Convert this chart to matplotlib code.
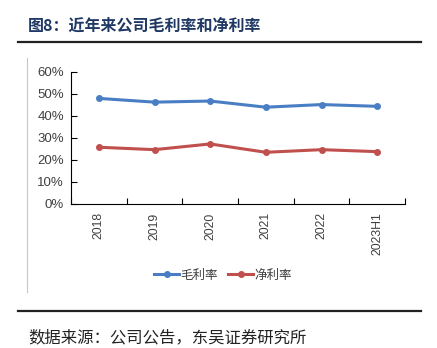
import matplotlib.pyplot as plt
from matplotlib.lines import Line2D

plt.rcParams['font.family'] = ['Noto Sans CJK SC', 'DejaVu Sans']

# datos
anios = ['2018', '2019', '2020', '2021', '2022', '2023H1']
margen_bruto = [48.0, 46.3, 46.8, 44.0, 45.2, 44.4]
margen_neto = [25.8, 24.7, 27.3, 23.5, 24.7, 23.8]
y_ticks = [0, 10, 20, 30, 40, 50, 60]

azul = '#4A7EC4'
rojo = '#C0504D'
gris = '#404040'

fig = plt.figure(figsize=(4.37, 3.48), dpi=100)
ax = fig.add_axes([71/437, 1-204/348, (405-71)/437, (204-72)/348])

x = [i + 0.5 for i in range(len(anios))]
ax.plot(x, margen_bruto, color=azul, lw=2.2, marker='o', ms=4, label='毛利率')
ax.plot(x, margen_neto, color=rojo, lw=2.2, marker='o', ms=4, label='净利率')

ax.set_xlim(0, len(anios))
ax.set_ylim(0, 60)
ax.set_yticks(y_ticks)
ax.set_yticklabels([str(v) + '%' for v in y_ticks], fontsize=9.5, color=gris, family='Liberation Sans')
ax.set_xticks(range(len(anios) + 1))
ax.set_xticklabels([])
ax.set_xticks(x, minor=True)
ax.set_xticklabels(anios, minor=True, rotation=90, fontsize=8.8, color=gris, family='Liberation Sans')
ax.tick_params(axis='x', which='minor', length=0, pad=6)
ax.tick_params(axis='x', which='major', direction='in', length=4, width=0.8)
ax.tick_params(axis='y', direction='in', length=4, width=0.8, pad=5)
for lado in ['top', 'right']:
    ax.spines[lado].set_visible(False)
for lado in ['left', 'bottom']:
    ax.spines[lado].set_linewidth(0.8)

ax.legend(loc='center', bbox_to_anchor=(223/437, 1-275/348), bbox_transform=fig.transFigure,
          ncol=2, frameon=False, fontsize=9, handlelength=2.0, handletextpad=0.1,
          columnspacing=0.8, labelcolor=gris)

# titulo, lineas y fuente
fig.text(28/437, 1-26/348, '图8：近年来公司毛利率和净利率', fontsize=11.5, fontweight='bold',
         color='#1F3864', va='center', ha='left')
fig.add_artist(Line2D([18/437, 421/437], [1-41.5/348, 1-41.5/348], color='#222222', lw=1.6))
fig.add_artist(Line2D([27/437, 27/437], [1-58/348, 1-292/348], color='#c8c8c8', lw=0.8))
fig.add_artist(Line2D([18/437, 421/437], [1-311/348, 1-311/348], color='#222222', lw=1.6))
fig.text(28/437, 1-338/348, '数据来源：公司公告，东吴证券研究所', fontsize=11.8, color='#222222',
         va='center', ha='left')

plt.savefig('out.png', dpi=100)
